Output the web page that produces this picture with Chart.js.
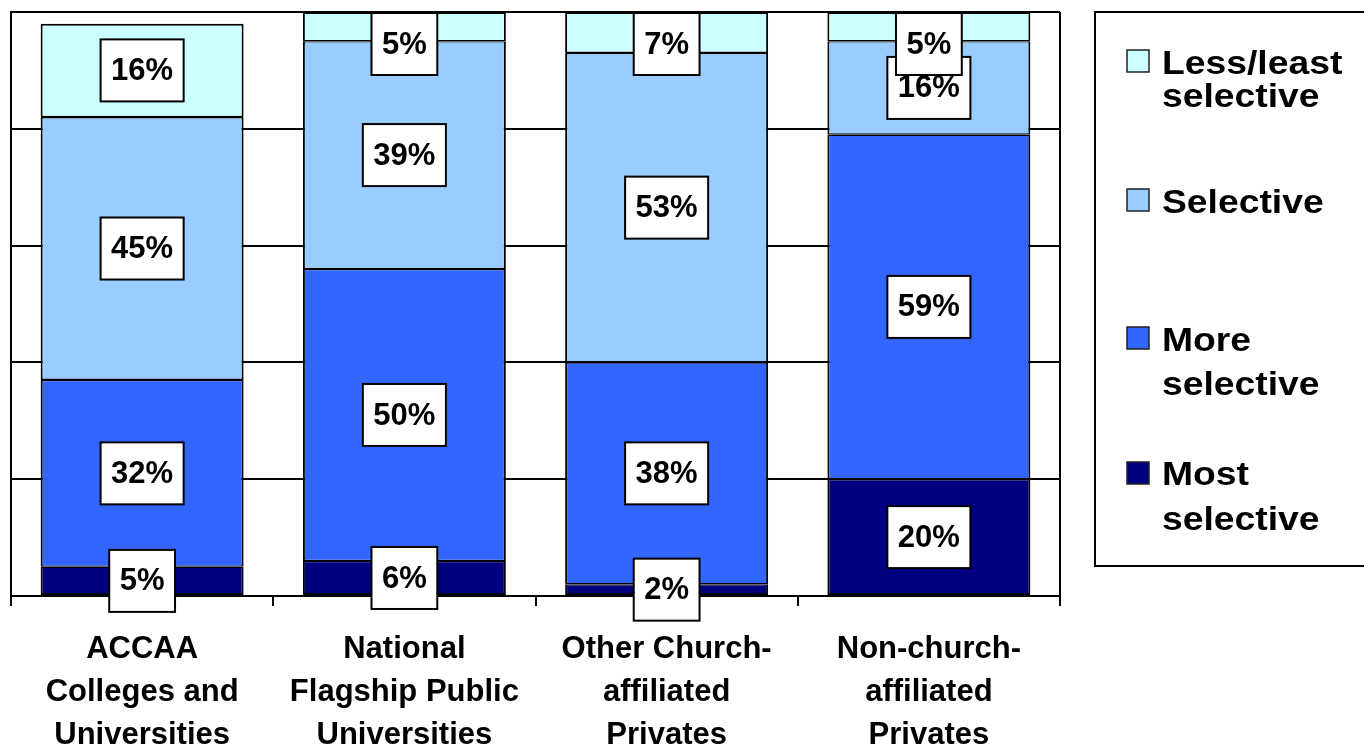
<!DOCTYPE html>
<html>
<head>
<meta charset="utf-8">
<script src="https://cdn.jsdelivr.net/npm/chart.js@4.4.1/dist/chart.umd.min.js"></script>
<style>
  html, body { margin: 0; padding: 0; background: #fff; }
  #wrap { width: 1364px; height: 750px; position: relative; }
</style>
</head>
<body>
<div id="wrap"><canvas id="c" width="1364" height="750"></canvas></div>
<script>
// Institution groups (multi-line axis labels)
const categories = [
  ['ACCAA', 'Colleges and', 'Universities'],
  ['National', 'Flagship Public', 'Universities'],
  ['Other Church-', 'affiliated', 'Privates'],
  ['Non-church-', 'affiliated', 'Privates']
];
// Selectivity shares, in percent, stacked from the bottom up
const mostSelective = [5, 6, 2, 20];
const moreSelective = [32, 50, 38, 59];
const selective = [45, 39, 53, 16];
const lessSelective = [16, 5, 7, 5];
const seriesNames = [['Most', 'selective'], ['More', 'selective'], ['Selective'], ['Less/least', 'selective']];
const yTicks = [0, 20, 40, 60, 80, 100];

const FONT = '"Liberation Sans", Arial, Helvetica, sans-serif';
const seriesColors = ['#000080', '#3366FF', '#99CCFF', '#CCFFFF'];
const seriesValues = [mostSelective, moreSelective, selective, lessSelective];

// Boxed percentage labels centred in each segment, kept inside the plot top
const boxLabels = {
  id: 'boxLabels',
  afterDatasetsDraw(chart) {
    const ctx = chart.ctx;
    const area = chart.chartArea;
    ctx.save();
    ctx.font = 'bold 31px ' + FONT;
    ctx.textAlign = 'center';
    ctx.textBaseline = 'middle';
    chart.data.datasets.forEach((ds, i) => {
      const meta = chart.getDatasetMeta(i);
      meta.data.forEach((bar, j) => {
        const p = bar.getProps(['x', 'y', 'base'], true);
        const text = ds.data[j] + '%';
        const w = ctx.measureText(text).width + 21;
        const h = 62;
        let top = (p.y + p.base) / 2 - h / 2;
        if (top < area.top + 1) top = area.top + 1;
        const left = p.x - w / 2;
        ctx.fillStyle = '#fff';
        ctx.fillRect(left, top, w, h);
        ctx.strokeStyle = '#000';
        ctx.lineWidth = 2;
        ctx.strokeRect(left, top, w, h);
        ctx.fillStyle = '#000';
        ctx.fillText(text, p.x, top + h / 2 + 1);
      });
    });
    ctx.restore();
  }
};

// Right edge of the plot frame
const plotFrame = {
  id: 'plotFrame',
  beforeDatasetsDraw(chart) {
    const ctx = chart.ctx;
    const a = chart.chartArea;
    ctx.save();
    ctx.strokeStyle = '#000';
    ctx.lineWidth = 2;
    ctx.beginPath();
    ctx.moveTo(a.right, a.top);
    ctx.lineTo(a.right, a.bottom);
    ctx.stroke();
    ctx.restore();
  }
};

// Boxed legend on the right, listed top series first
const sideLegend = {
  id: 'sideLegend',
  afterDraw(chart) {
    const ctx = chart.ctx;
    const rows = [
      { marker: 61, lines: [74, 107] },
      { marker: 200, lines: [213] },
      { marker: 338, lines: [351, 395] },
      { marker: 473, lines: [485, 530] }
    ];
    ctx.save();
    ctx.strokeStyle = '#000';
    ctx.lineWidth = 2;
    ctx.strokeRect(1095, 12, 320, 554);
    const n = chart.data.datasets.length;
    rows.forEach((row, k) => {
      const idx = n - 1 - k;
      const ds = chart.data.datasets[idx];
      ctx.fillStyle = ds.backgroundColor;
      ctx.fillRect(1127, row.marker - 11, 22, 22);
      ctx.strokeStyle = '#222';
      ctx.lineWidth = 1.5;
      ctx.strokeRect(1127, row.marker - 11, 22, 22);
      ctx.fillStyle = '#000';
      ctx.font = 'bold 33px ' + FONT;
      ctx.textAlign = 'left';
      ctx.textBaseline = 'alphabetic';
      seriesNames[idx].forEach((line, li) => {
        ctx.save();
        ctx.translate(1162, row.lines[li]);
        ctx.scale(1.13, 1);
        ctx.fillText(line, 0, 0);
        ctx.restore();
      });
    });
    ctx.restore();
  }
};

const last = seriesValues.length - 1;

new Chart(document.getElementById('c'), {
  type: 'bar',
  data: {
    labels: categories,
    datasets: seriesValues.map((vals, i) => ({
      label: seriesNames[i].join(' '),
      data: vals,
      backgroundColor: seriesColors[i],
      borderColor: '#000',
      // shared edges between stacked segments add up to one dark line
      borderWidth: { left: 2, right: 2, top: i === last ? 2 : 1.3, bottom: i === 0 ? 2 : 1.3 },
      borderSkipped: false,
      categoryPercentage: 1,
      barPercentage: 0.774
    }))
  },
  options: {
    responsive: false,
    animation: false,
    devicePixelRatio: 1,
    layout: { padding: { left: 11, top: 12, right: 304, bottom: 0 } },
    plugins: {
      legend: { display: false },
      tooltip: { enabled: false }
    },
    scales: {
      x: {
        stacked: true,
        offset: true,
        grid: {
          offset: true,
          drawOnChartArea: false,
          drawTicks: true,
          tickLength: 10,
          color: '#000',
          lineWidth: 2
        },
        border: { display: true, color: '#000', width: 2 },
        ticks: {
          color: '#000',
          font: { family: FONT, size: 31, weight: 'bold', lineHeight: 43 / 31 },
          padding: 22,
          maxRotation: 0,
          minRotation: 0,
          autoSkip: false
        },
        afterFit(scale) { scale.height = 154; }
      },
      y: {
        stacked: true,
        min: yTicks[0],
        max: yTicks[yTicks.length - 1],
        afterBuildTicks(scale) { scale.ticks = yTicks.map(v => ({ value: v })); },
        ticks: { display: false },
        grid: { drawTicks: false, color: '#000', lineWidth: 2 },
        border: { display: true, color: '#000', width: 2 },
        afterFit(scale) { scale.width = 0; }
      }
    }
  },
  plugins: [plotFrame, boxLabels, sideLegend]
});
</script>
</body>
</html>
